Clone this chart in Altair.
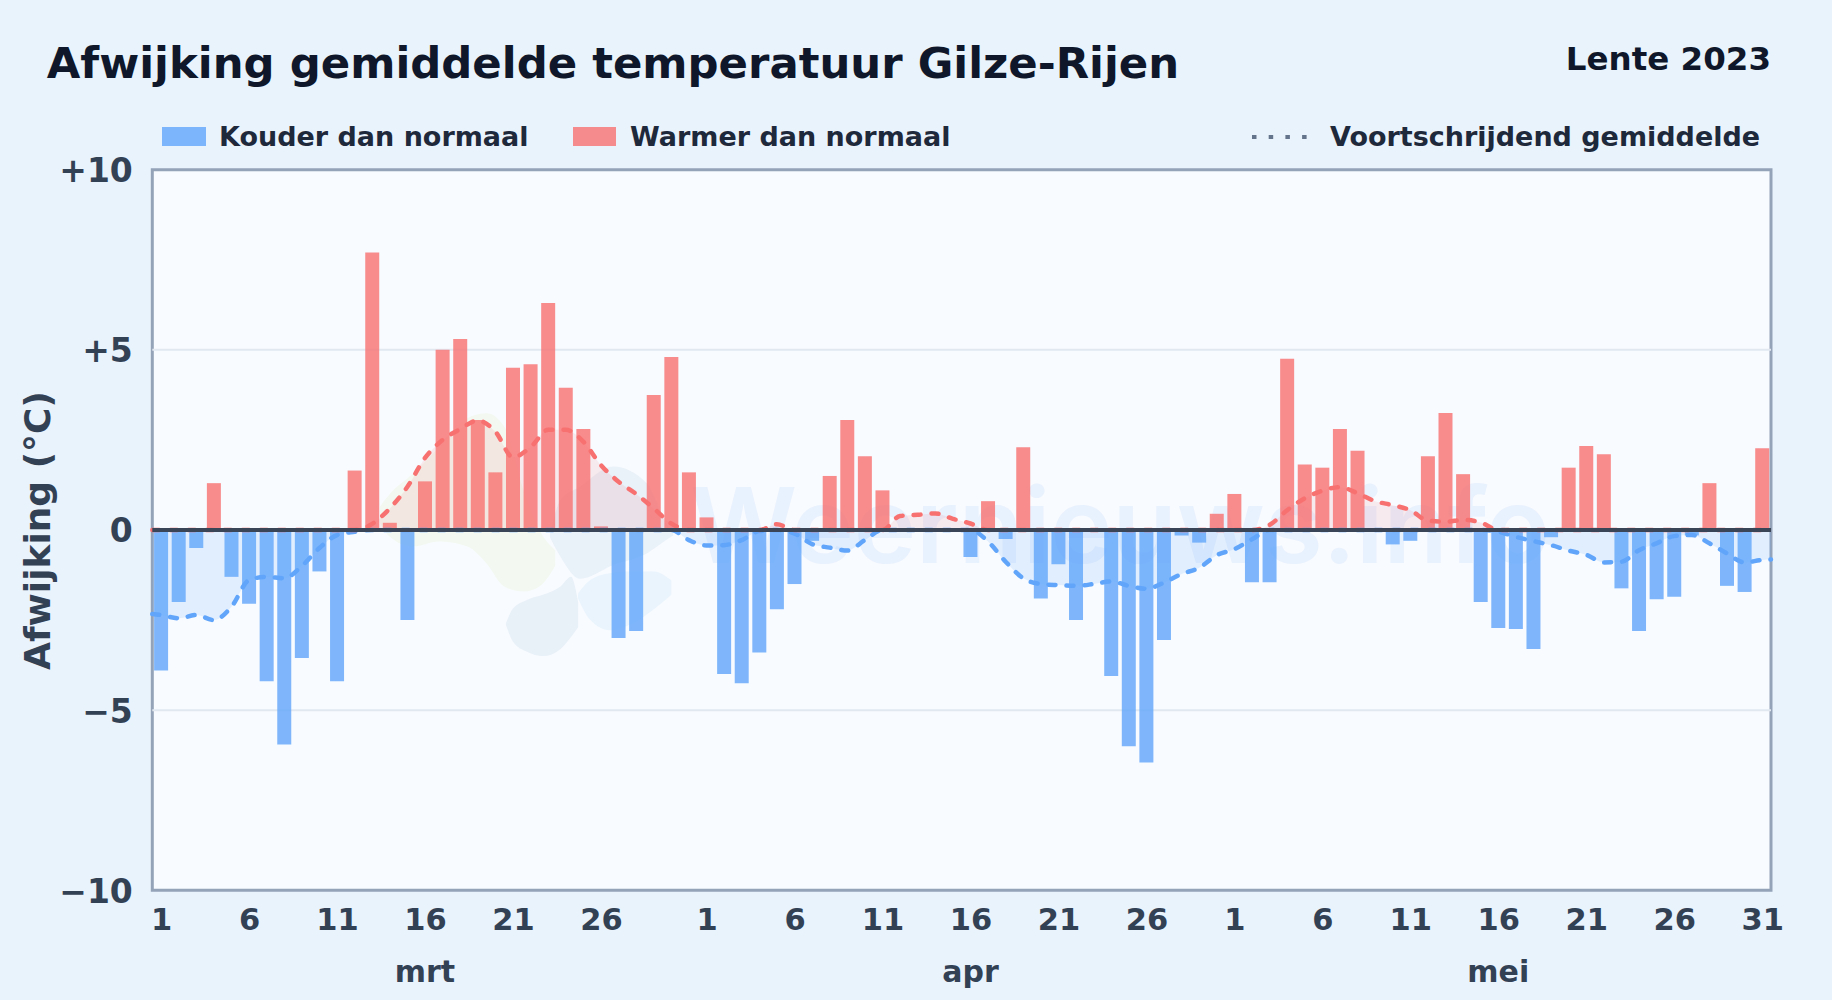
import altair as alt
import pandas as pd
from altair.utils.html import HTML_TEMPLATE

FONT = "DejaVu Sans"
PAGE_BG = "#e9f3fc"
PLOT_BG = "#f8fbff"
BLUE = "#60a5fa"
RED = "#f87171"
INK = "#0f172a"
LABEL = "#334155"
LEGEND_INK = "#1e293b"

deviation = [
    -3.9, -2.0, -0.5, 1.3, -1.3, -2.05, -4.2, -5.95, -3.55, -1.15, -4.2, 1.65, 7.7, 0.2, -2.5, 1.35,
    5.0, 5.3, 3.05, 1.6, 4.5, 4.6, 6.3, 3.95, 2.8, 0.1, -3.0, -2.8, 3.75, 4.8, 1.6,
    0.35, -4.0, -4.25, -3.4, -2.2, -1.5, -0.3, 1.5, 3.05, 2.05, 1.1, 0.0, 0.0, 0.0, 0.0, -0.75,
    0.8, -0.25, 2.3, -1.9, -0.95, -2.5, 0.0, -4.05, -6.0, -6.45, -3.05, -0.15, -0.35, 0.45,
    1.0, -1.45, -1.45, 4.75, 1.82, 1.73, 2.8, 2.2, -0.05, -0.4, -0.3, 2.05, 3.25, 1.55, -2.0, -2.72,
    -2.75, -3.3, -0.2, 1.73, 2.33, 2.1, -1.62, -2.8, -1.92, -1.85, -0.15, 1.3, -1.55, -1.72, 2.27,
]
days = list(range(1, 93))

moving_avg = [
    -2.33, -2.36, -2.45, -2.36, -2.5, -2.13, -1.39, -1.3, -1.34, -1.0, -0.5, -0.14, -0.05, 0.17, 0.6, 1.2, 2.0,
    2.5, 2.8, 3.04, 2.73, 2.02, 2.3, 2.78, 2.78, 2.45, 1.8, 1.34, 1.0, 0.6, 0.18, -0.28,
    -0.43, -0.42, -0.28, -0.03, 0.16, -0.1, -0.39, -0.49, -0.57, -0.28, 0.0, 0.39, 0.42, 0.46, 0.31, 0.18,
    -0.32, -0.88, -1.34, -1.5, -1.53, -1.55, -1.5, -1.43, -1.55, -1.63, -1.46, -1.22, -1.05, -0.7,
    -0.53, -0.26, 0.14, 0.55, 0.88, 1.09, 1.19, 1.02, 0.8, 0.69, 0.55, 0.26, 0.23, 0.28, 0.21, -0.05,
    -0.19, -0.31, -0.42, -0.57, -0.69, -0.9, -0.88, -0.56, -0.37, -0.17, -0.14, -0.37, -0.65, -0.9, -0.83, -0.82,
]
moving_days = [0.5] + days + [92.5]

tick_days = [1, 6, 11, 16, 21, 26, 32, 37, 42, 47, 52, 57, 62, 67, 72, 77, 82, 87, 92]
month_names = ["mrt", "apr", "mei"]
month_days = [16, 47, 77]
y_ticks = [-10, -5, 0, 5, 10]
grid_values = [-5, 5]

# Faint logo behind the bars: day, upper edge, lower edge (in chart units)
logo_green = [(13.44, 0.65, 0.19), (14.0, 1.0, -0.19), (15.3, 1.56, -0.46), (16.8, 2.3, -0.32), (18.4, 3.1, -0.46),
              (19.5, 3.24, -0.93), (20.5, 2.87, -1.57), (21.6, 1.1, -1.71), (22.5, 0.0, -1.57), (23.4, -0.56, -1.0)]
logo_blue = [(23.1, -0.1, -0.2), (23.7, 0.83, -0.74), (24.8, 1.2, -1.35), (26.7, 1.76, -0.97), (28.6, 1.3, -0.65),
             (29.7, 0.19, -0.28), (30.1, -0.1, -0.15)]
logo_lobe = [(20.6, -2.59, -2.64), (21.0, -2.18, -3.1), (21.8, -1.94, -3.38), (22.7, -1.8, -3.5), (23.7, -1.57, -3.3),
             (24.3, -1.3, -2.97), (24.7, -2.0, -2.7)]
logo_light = [(24.7, -1.76, -1.9), (25.4, -1.39, -2.5), (26.5, -1.2, -2.78), (27.8, -1.15, -2.59), (29.0, -1.15, -2.2),
              (30.0, -1.4, -1.8)]

X_SCALE = alt.Scale(domain=[0.5, 92.5], nice=False, zero=False, padding=0)
Y_SCALE = alt.Scale(domain=[-10, 10], nice=False)
X_AXIS = alt.Axis(
    title=None, values=tick_days, ticks=False, domain=False, grid=False, labelFont=FONT, labelFontWeight="bold",
    labelFontSize=30.5, labelColor=LABEL, labelPadding=15, labelFlush=False, labelOverlap=False,
    labelExpr="datum.value <= 31 ? datum.value : datum.value <= 61 ? datum.value - 31 : datum.value - 61",
)
Y_AXIS = alt.Axis(
    title="Afwijking (°C)", values=y_ticks, ticks=False, domain=False, grid=False,
    labelFont=FONT, labelFontWeight="bold", labelFontSize=33, labelColor=LABEL, labelPadding=20, labelOffset=2,
    labelExpr="datum.value > 0 ? '+' + datum.value : datum.value < 0 ? '\u2212' + abs(datum.value) : '0'",
    titleFont=FONT, titleFontWeight="bold", titleFontSize=36, titleColor=LABEL, titlePadding=1,
)


def xenc(field):
    return alt.X(field + ":Q", scale=X_SCALE, axis=X_AXIS)


def yenc(field):
    return alt.Y(field + ":Q", scale=Y_SCALE, axis=Y_AXIS)


def text_at(text, x, y, size, color, align="left", font=FONT, weight="bold", **kw):
    return alt.Chart(alt.Data(values=[{"t": text}])).mark_text(
        font=font, fontWeight=weight, fontSize=size, color=color, align=align, baseline="middle", **kw
    ).encode(x=alt.value(x), y=alt.value(y), text="t:N")


def blob(rows, color):
    d = pd.DataFrame(rows, columns=["x", "top", "bottom"])
    return alt.Chart(d).mark_area(color=color, interpolate="monotone").encode(
        x=xenc("x"), y=yenc("top"), y2="bottom:Q")


df = pd.DataFrame({"day": days, "value": deviation})
df["kind"] = ["warm" if v > 0 else "cold" for v in deviation]
df = df[df["value"] != 0]

avg = pd.DataFrame({"day": moving_days, "avg": moving_avg})
avg["pos"] = avg["avg"].clip(lower=0)
avg["neg"] = avg["avg"].clip(upper=0)

grid = alt.Chart(pd.DataFrame({"y": grid_values})).mark_rule(color="#e2e8f0", strokeWidth=2).encode(y=yenc("y"))

watermark = text_at("Weernieuws.info", 1120 - 152.3, 531 - 169.7, 105, "#3b82f6", align="center",
                    font="Inter", weight=600, opacity=0.08)

area_neg = alt.Chart(avg).mark_area(color=BLUE, opacity=0.15, interpolate="monotone").encode(x=xenc("day"), y=yenc("neg"))
area_pos = alt.Chart(avg).mark_area(color=RED, opacity=0.12, interpolate="monotone").encode(x=xenc("day"), y=yenc("pos"))

bars = alt.Chart(df).mark_bar(width=14, opacity=0.8).encode(
    x=xenc("day"),
    y=yenc("value"),
    color=alt.Color("kind:N", scale=alt.Scale(domain=["cold", "warm"], range=[BLUE, RED]), legend=None),
)

line_kw = dict(interpolate="monotone", strokeWidth=4.5, strokeDash=[7, 11], strokeCap="round")
line_neg = alt.Chart(avg).mark_line(color=BLUE, **line_kw).encode(x=xenc("day"), y=yenc("neg"))
line_pos = alt.Chart(avg).mark_line(color=RED, **line_kw).encode(x=xenc("day"), y=yenc("pos"))

zero = alt.Chart(pd.DataFrame({"y": [0]})).mark_rule(color="#3a4658", strokeWidth=4).encode(y=yenc("y"))

TOP = 169.7
LEFT = 152.3
LEG_Y = 138 - TOP


def swatch(x0, x1, color):
    return alt.Chart(alt.Data(values=[{"a": 1}])).mark_rect(color=color, opacity=0.8).encode(
        x=alt.value(x0 - LEFT), x2=alt.value(x1 - LEFT), y=alt.value(127 - TOP), y2=alt.value(146 - TOP))


legend_dots = alt.Chart(alt.Data(values=[{"a": 1}])).mark_rule(color="#64748b", strokeWidth=4, strokeDash=[4.5, 12.2]).encode(
    x=alt.value(1252 - LEFT), x2=alt.value(1308 - LEFT), y=alt.value(137 - TOP))

months = alt.Chart(pd.DataFrame({"day": month_days, "name": month_names})).mark_text(
    font=FONT, fontWeight="bold", fontSize=30, color=LABEL, baseline="middle"
).encode(x=xenc("day"), y=alt.value(973 - TOP), text="name:N")

chart = alt.layer(
    grid,
    blob(logo_green, "#f3f9f1"),
    blob(logo_blue, "#e9f1f9"),
    blob(logo_lobe, "#e8f0f8"),
    blob(logo_light, "#e9f4fd"),
    watermark,
    area_neg,
    area_pos,
    bars,
    line_neg,
    line_pos,
    zero,
    months,
    swatch(162, 206, BLUE),
    text_at("Kouder dan normaal", 219 - LEFT, LEG_Y, 27, LEGEND_INK),
    swatch(573, 616, RED),
    text_at("Warmer dan normaal", 630 - LEFT, LEG_Y, 27, LEGEND_INK),
    legend_dots,
    text_at("Voortschrijdend gemiddelde", 1330 - LEFT, LEG_Y, 27, LEGEND_INK),
    text_at("Lente 2023", 1771 - LEFT, 60 - TOP, 32.5, INK, align="right"),
).properties(
    width=1618.7,
    height=720.6,
    padding={"left": 144.3, "top": 161.7, "right": 37, "bottom": 101},
    autosize=alt.AutoSizeParams(type="none"),
    background="transparent",
    title=alt.TitleParams(
        "Afwijking gemiddelde temperatuur Gilze-Rijen", anchor="start", font=FONT, fontSize=43.4, fontWeight="bold",
        color=INK, dx=26, offset=0, dy=43,
    ),
).configure_view(fill=PLOT_BG, stroke="#94a3b8", strokeWidth=3)


class PageTemplate:
    """The standard Altair page, with the page background set to match the chart's."""

    def render(self, **kwargs):
        return HTML_TEMPLATE.render(**kwargs).replace(
            "</head>", "<style>html,body{background:" + PAGE_BG + ";}</style></head>", 1)


chart.save("out.html", embed_options={"renderer": "svg", "actions": False}, template=PageTemplate())
